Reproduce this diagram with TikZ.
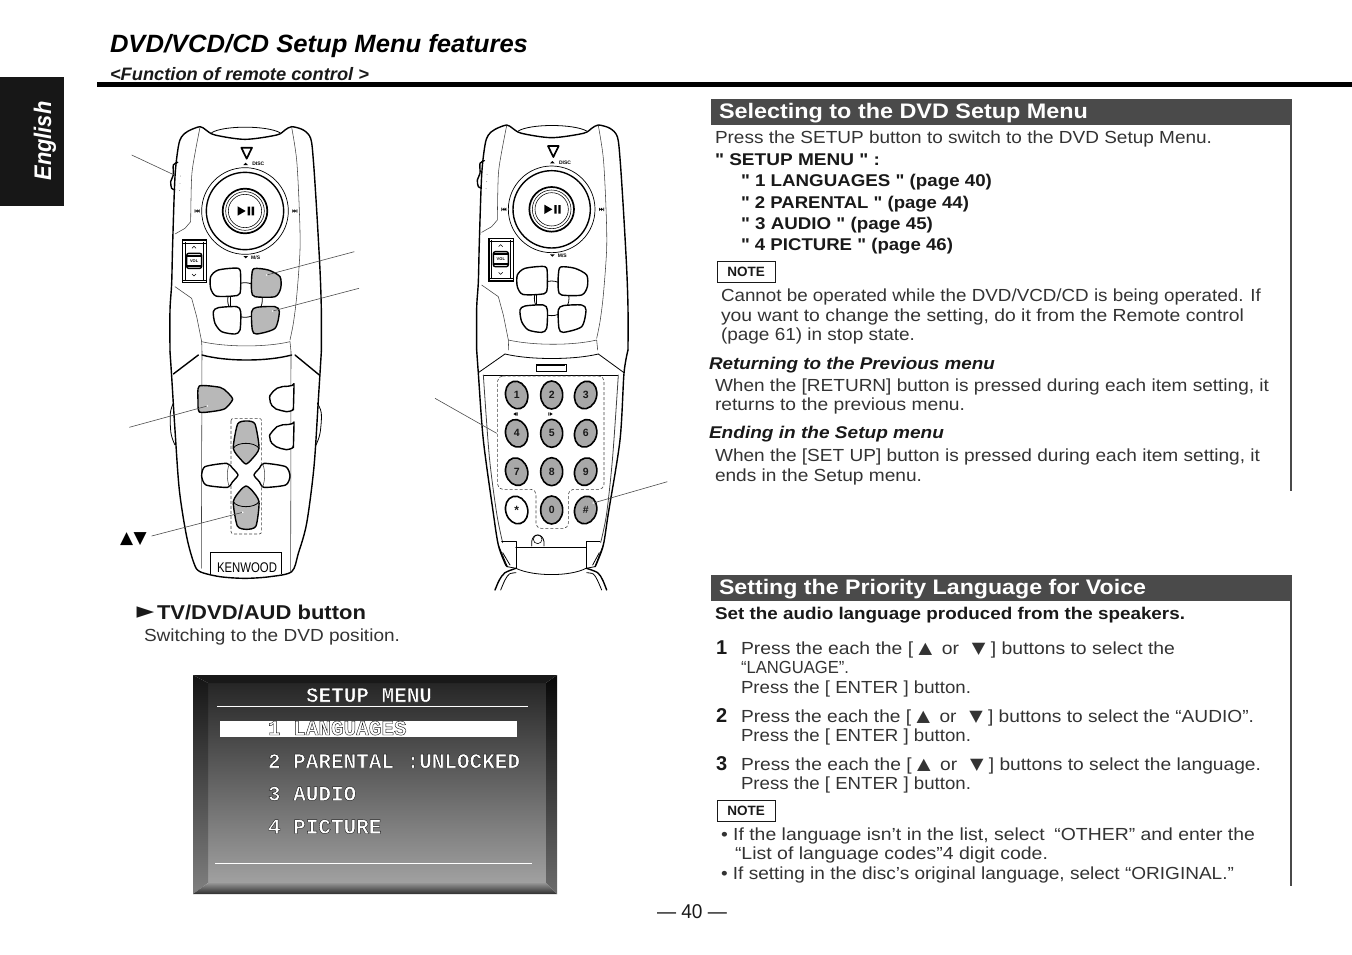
\documentclass[tikz,border=0pt]{standalone}
\usepackage{fontspec}
\usetikzlibrary{calc}
\setmainfont{Liberation Sans}[Ligatures=TeXOff]
\newfontfamily\djf{DejaVu Sans}
\font\scrf="Liberation Mono/B:embolden=2" at 21pt
\definecolor{ink}{gray}{0.1}
\definecolor{body}{gray}{0.2}
\definecolor{bar}{gray}{0.29}
\definecolor{btn}{gray}{0.72}
\definecolor{keyg}{gray}{0.66}
\newsavebox\fitbox
\newcommand\fitw[2]{\sbox\fitbox{#2}\pgfmathsetmacro\fitf{#1/\the\wd\fitbox}\scalebox{\fitf}[1]{\usebox\fitbox}}
\newcommand\fs[1]{\fontsize{#1}{#1}\selectfont}
\newcommand\T[6]{\node[txt] (#1) at (#2,#3) {\fitw{#4}{#5 #6}};}
\newcommand\B{\fs{17.5}\color{body}}
\newcommand\Bb{\fs{17}\bfseries\color{ink}}
\newcommand\Bi{\fs{17}\bfseries\itshape\color{ink}}
\newcommand\tri[1]{{\djf\fs{16}\raisebox{.5pt}{#1}}}
\tikzset{
 txt/.style={anchor=base west,inner sep=0pt,outer sep=0pt},
 ctr/.style={anchor=center,inner sep=0pt,outer sep=0pt},
 ol/.style={line width=1.4pt,line join=round,line cap=round,draw=black},
 md/.style={line width=.8pt,line join=round,line cap=round,draw=black},
 fine/.style={line width=.55pt,line join=round,line cap=round,draw=black!75},
 lead/.style={line width=.6pt,draw=black!70},
 dsh/.style={line width=.6pt,draw=black!75,dash pattern=on 3pt off 2pt,rounded corners=2.5pt},
 scrtxt/.style={anchor=base west,inner sep=0pt,outer sep=0pt},
}
% top half of a remote, in zoom coordinates. #1 prefix, #2 fill of right pair of buttons
\newcommand\remotetop[2]{
 \draw[ol] plot[smooth,tension=.5] coordinates {(150,725)(150,600)(155,520)(158,400)(165,200)(175,110)(185,80)(205,63)(240,50)(258,60)(285,75)(375,88)(470,75)(495,60)(515,50)(550,60)(572,85)(580,150)(590,300)(600,480)(604,600)(604,725)};
 \draw[md] (275,68) .. controls (310,46) and (440,46) .. (480,68);
 \draw[fine] plot[smooth,tension=.5] coordinates {(240,52)(225,130)(215,200)(212,335)} -- (195,355) -- (165,372);
 \draw[fine] (165,530) -- (215,565) -- (230,620) -- (245,695);
 \draw[fine] plot[smooth,tension=.5] coordinates {(515,52)(530,150)(538,300)(540,420)(530,560)(520,640)(510,690)};
 \draw[fine] (245,695) .. controls (320,712) and (440,712) .. (510,695) -- (513,725);
 \draw[fine] (245,695) -- (246,725);
 % eject mark
 \draw[line width=1.7pt,line join=round] (364,113) -- (396,113) -- (380,146) -- cycle;
 \fill (370,165) -- (384,165) -- (377,158) -- cycle;
 \node[ctr] (#1disc) at (415,162) {\fs{5}\bfseries DISC};
 % disc
 \draw[line width=.7pt] (375,303) circle (130);
 \draw[ol] (375,303) circle (116);
 \draw[line width=1.7pt] (375,303) circle (67);
 \draw[line width=.55pt] (375,303) circle (58);
 \draw[line width=.55pt] (375,303) circle (50);
 \fill (353,289) -- (353,317) -- (377,303) -- cycle;
 \fill (383,290) rectangle (390,316) (395,290) rectangle (402,316);
 % skip marks
 \fill (224,298) rectangle (226,308) (227,303) -- (233,298) -- (233,308) -- cycle (233,303) -- (239,298) -- (239,308) -- cycle;
 \fill (532,298) rectangle (530,308) (529,303) -- (523,298) -- (523,308) -- cycle (523,303) -- (517,298) -- (517,308) -- cycle;
 % ms
 \fill (370,438) -- (384,438) -- (377,445) -- cycle;
 \node[ctr] (#1ms) at (407,442) {\fs{5}\bfseries M/S};
 % volume box
 \draw[fill=white,line width=1.1pt] (187,390) rectangle (260,518);
 \draw[line width=.5pt] (195,395) -- (195,510) (250,395) -- (250,510) (187,400) -- (260,400) (187,510) -- (260,510);
 \draw[ol,rounded corners=2pt] (200,430) rectangle (245,475);
 \draw[line width=1.9pt] (201,438) -- (244,438) (201,468) -- (244,468);
 \node[ctr] (#1vol) at (222.5,453) {\fs{4}\bfseries VOL};
 \draw[line width=.55pt] (216,415) -- (222,409) -- (228,415) (216,492) -- (222,498) -- (228,492);
 % side switch
 \draw[ol] plot[smooth,tension=.5] coordinates {(173,157)(160,165)(160,195)(152,215)(155,235)(164,239)};
 \fill (181,198) circle (1) (180,220) circle (1) (178,241) circle (1);
 % pad
 \draw[line width=.8pt,fill=white] (375,570) circle (52);
 \draw[line width=.8pt] (330,555) -- (330,595);
 \draw[ol,fill=white] plot[smooth cycle,tension=.45] coordinates {(272,500)(295,480)(355,475)(362,500)(360,550)(340,558)(288,558)(272,535)};
 \draw[ol,fill=#2] plot[smooth cycle,tension=.45] coordinates {(395,500)(402,476)(445,480)(480,500)(482,535)(465,560)(405,560)(395,545)};
 \draw[ol,fill=white] plot[smooth cycle,tension=.45] coordinates {(280,605)(295,593)(350,590)(362,605)(360,660)(345,672)(305,665)(285,640)};
 \draw[ol,fill=#2] plot[smooth cycle,tension=.45] coordinates {(395,605)(410,592)(465,590)(478,605)(465,655)(410,672)(397,660)};
}
\begin{document}
\begin{tikzpicture}[x=1pt,y=-1pt]
\useasboundingbox (0,0) rectangle (1352,954);
% header
\fill[fill=ink!90!black] (0,77) rectangle (64,206);
\node[ctr,rotate=90] (lang) at (45,141) {\fitw{79}{\fs{24}\bfseries\itshape\color{white}English}};
\T{head}{110}{52}{418}{\fs{25}\bfseries\itshape\color{black}}{DVD/VCD/CD Setup Menu features}
\T{sub}{110}{80}{259}{\fs{18}\bfseries\itshape\color{ink}}{<Function of remote control >}
\fill[black] (97,81.5) rectangle (1352,86.5);

% remote 1
\begin{scope}[shift={(120,110)},x=.33333pt,y=-.33333pt]
 \remotetop{a}{btn}
\end{scope}
\begin{scope}[shift={(120,350)},x=.33333pt,y=-.33333pt]
 \draw[ol] plot[smooth,tension=.5] coordinates {(150,5)(155,80)(165,240)(178,420)(200,560)(222,640)(240,665)(300,680)(375,685)(450,680)(515,665)(535,610)(560,520)(582,350)(595,150)(604,5)};
 \draw[ol] (160,72) -- (235,15) (525,15) -- (598,75);
 \draw[ol] (246,15) .. controls (320,35) and (440,35) .. (515,15);
 \draw[fine] (246,5) -- (244,655) (513,5) -- (512,665);
 \draw[md] plot[smooth,tension=.6] coordinates {(160,160)(151,190)(153,250)(165,285)};
 \draw[md] plot[smooth,tension=.6] coordinates {(592,160)(604,190)(600,250)(588,285)};
 \draw[ol,fill=btn] plot[smooth cycle,tension=.4] coordinates {(238,108)(300,112)(320,125)(338,148)(315,176)(280,184)(238,186)(234,150)};
 \draw[ol,fill=white,rounded corners=3pt] plot[smooth,tension=.5] coordinates {(522,110)(480,112)(455,130)(450,150)(462,172)(490,183)(520,185)} -- cycle;
 \draw[ol,fill=white,rounded corners=3pt] plot[smooth,tension=.5] coordinates {(522,225)(480,227)(455,247)(450,265)(462,285)(490,297)(520,298)} -- cycle;
 \draw[dsh] (333,205) rectangle (425,552);
 \draw[ol,fill=btn] plot[smooth cycle,tension=.4] coordinates {(353,222)(380,213)(405,222)(417,295)(395,328)(378,342)(362,328)(340,295)};
 \draw[md] (340,295) .. controls (350,275) and (405,275) .. (417,295);
 \draw[ol,fill=btn] plot[smooth cycle,tension=.4] coordinates {(378,408)(395,420)(417,455)(408,528)(380,538)(352,528)(340,455)(362,420)};
 \draw[md] (340,455) .. controls (350,475) and (405,475) .. (417,455);
 \draw[ol,fill=white] plot[smooth cycle,tension=.4] coordinates {(255,350)(320,340)(338,355)(354,375)(338,395)(322,412)(258,405)(245,378)};
 \draw[fine] (328,342) .. controls (320,360) and (320,390) .. (328,410);
 \draw[ol,fill=white] plot[smooth cycle,tension=.4] coordinates {(497,350)(432,340)(418,355)(402,375)(418,395)(432,412)(497,405)(510,378)};
 \draw[fine] (428,342) .. controls (436,360) and (436,390) .. (428,410);
 \draw[line width=.7pt] (272,672) -- (272,607) -- (483,607) -- (483,672);
\end{scope}
\T{kw}{217}{572}{60}{\fs{14}\color{black}}{KENWOOD}
% leaders remote 1
\coordinate (l1a) at (131.7,155);
\coordinate (l1b) at (174.3,175);
\coordinate (l2a) at (354.3,251.7);
\coordinate (l2b) at (266.7,275);
\coordinate (l3a) at (359,288.3);
\coordinate (l3b) at (272.7,311);
\coordinate (l4a) at (129.3,427.3);
\coordinate (l4b) at (207.3,406);
\node[txt] (updown) at (120,543) {\djf\fs{17}\color{black}▲\hspace{.5pt}▼};
\coordinate (l5b) at (242.7,512.3);
\draw[lead] (l1a) -- (l1b);
\draw[lead] (l2a) -- (l2b);
\draw[lead] (l3a) -- (l3b);
\draw[lead] (l4a) -- (l4b);
\draw[lead] ($(updown.base east)+(5,-7)$) -- (l5b);
\fill[white] (l2b) circle[radius=.9pt] (l3b) circle[radius=.9pt] (l4b) circle[radius=.9pt] (l5b) circle[radius=.9pt];

% remote 2
\begin{scope}[shift={(426.67,108.33)},x=.33333pt,y=-.33333pt]
 \remotetop{b}{white}
\end{scope}
\begin{scope}[shift={(430,350)},x=.33333pt,y=-.33333pt]
 \draw[ol] plot[smooth,tension=.5] coordinates {(140,0)(145,70)(160,270)(190,490)(205,585)(225,640)(232,650)};
 \draw[ol] plot[smooth,tension=.5] coordinates {(594,0)(582,70)(570,270)(535,490)(520,585)(500,640)(495,650)};
 \draw[md] (145,68) -- (225,12) (582,68) -- (505,12);
 \draw[md] (225,12) .. controls (300,30) and (430,30) .. (505,12);
 \draw[line width=.8pt] (318,42) rectangle (408,63);
 \draw[line width=1.2pt] (320,46) -- (406,46);
 \draw[line width=1pt] (160,75) -- (565,75);
 \draw[fine,line width=.8pt] plot[smooth,tension=.5] coordinates {(160,75)(178,320)(200,490)(218,578)};
 \draw[fine,line width=.8pt] plot[smooth,tension=.5] coordinates {(565,75)(548,320)(530,490)(512,578)};
 \draw[dsh,rounded corners=5pt] (203,78) -- (522,78) -- (522,418) -- (415,418) -- (415,535) -- (318,535) -- (318,418) -- (203,418) -- cycle;
 \foreach \kx/\ky/\ka/\kl in {260/135/15/k1,365/135/0/k2,467/135/-15/k3,260/250/15/k4,365/250/0/k5,467/250/-15/k6,260/365/15/k7,365/365/0/k8,467/365/-15/k9,365/480/0/k0,467/480/-15/kh}{
  \draw[ol,line width=1.6pt,fill=keyg,rotate around={\ka:(\kx,\ky)}] (\kx,\ky) ellipse (33 and 42);
 }
 \draw[ol,line width=1.6pt,fill=white,rotate around={15:(260,480)}] (260,480) ellipse (33 and 42);
 \node[ctr] (k1) at (260,135) {\fs{10.5}\bfseries\color{ink}1};
 \node[ctr] (k2) at (365,135) {\fs{10.5}\bfseries\color{ink}2};
 \node[ctr] (k3) at (467,135) {\fs{10.5}\bfseries\color{ink}3};
 \node[ctr] (k4) at (260,250) {\fs{10.5}\bfseries\color{ink}4};
 \node[ctr] (k5) at (365,250) {\fs{10.5}\bfseries\color{ink}5};
 \node[ctr] (k6) at (467,250) {\fs{10.5}\bfseries\color{ink}6};
 \node[ctr] (k7) at (260,365) {\fs{10.5}\bfseries\color{ink}7};
 \node[ctr] (k8) at (365,365) {\fs{10.5}\bfseries\color{ink}8};
 \node[ctr] (k9) at (467,365) {\fs{10.5}\bfseries\color{ink}9};
 \node[ctr] (ks) at (260,480) {\fs{12}\bfseries\color{ink}\raisebox{-2.5pt}{*}};
 \node[ctr] (k0) at (365,480) {\fs{10.5}\bfseries\color{ink}0};
 \node[ctr] (kh) at (467,480) {\fs{10.5}\bfseries\color{ink}\#};
 \fill (250,192) -- (258,187) -- (258,197) -- cycle (260,187) rectangle (263,197);
 \fill (355,187) rectangle (358,197) (360,187) -- (368,192) -- (360,197) -- cycle;
 % hatch
 \draw[md] (305,588) -- (305,575) .. controls (308,548) and (338,548) .. (342,575) -- (342,588);
 \draw[line width=.6pt] (323,568) circle (13);
 \draw[md] (215,575) -- (258,575) -- (258,655);
 \draw[md] (510,575) -- (468,575) -- (468,655);
 \draw[ol] (258,592) -- (468,592);
 \draw[md] (205,585) -- (232,650) -- (258,655);
 \draw[md] (218,608) -- (240,645);
 \draw[md] (520,585) -- (495,650) -- (468,655);
 \draw[md] (508,608) -- (488,645);
 \draw[md] (258,655) .. controls (310,680) and (420,680) .. (468,655);
 \draw[ol] plot[smooth,tension=.5] coordinates {(258,655)(225,668)(208,690)(195,720)};
 \draw[md] plot[smooth,tension=.5] coordinates {(258,668)(238,672)(225,690)(212,720)};
 \draw[ol] plot[smooth,tension=.5] coordinates {(470,655)(503,668)(518,690)(530,720)};
 \draw[md] plot[smooth,tension=.5] coordinates {(470,668)(490,672)(502,690)(515,720)};
\end{scope}
\coordinate (l6a) at (435,398.3);
\coordinate (l6b) at (496.7,433.3);
\coordinate (l7a) at (667.3,481.7);
\coordinate (l7b) at (593.3,503);
\draw[lead] (l6a) -- (l6b);
\draw[lead] (l7a) -- (l7b);
\fill[white] (l7b) circle[radius=.9pt];

% caption left
\node[txt] (arrowhead) at (136.5,618.5) {\djf\fs{23}\color{ink}►};
\T{tvbtn}{157}{619}{209}{\fs{20}\bfseries\color{ink}}{TV/DVD/AUD button}
\T{sw}{144}{641}{256}{\B}{Switching to the DVD position.}

% screen
\shade[top color=black!85,bottom color=black!37] (208,683) rectangle (546,883);
\shade[top color=black!92,bottom color=black!50] (193,675) -- (208,683) -- (208,883) -- (193,894) -- cycle;
\shade[top color=black!97,bottom color=black!58] (557,675) -- (546,683) -- (546,883) -- (557,894) -- cycle;
\fill[black!90] (193,675) -- (557,675) -- (546,683) -- (208,683) -- cycle;
\shade[top color=black!42,bottom color=black!82] (193,894) -- (557,894) -- (546,883) -- (208,883) -- cycle;
\fill[white] (220,721) rectangle (517,737);
\draw[white,line width=1.5pt] (217,706.7) -- (528,706.7);
\draw[white,line width=1.5pt] (215,863.5) -- (532,863.5);
\newcommand\scrtext[1]{\scrf\color{white}\special{pdf:code 0.1 0.1 0.1 RG}#1}
\node[scrtxt] (s0) at (306,702) {\scrtext{SETUP MENU}};
\node[scrtxt] (s1) at (268,735) {\scrtext{1 LANGUAGES}};
\node[scrtxt] (s2) at (268,768) {\scrtext{2 PARENTAL :UNLOCKED}};
\node[scrtxt] (s3) at (268,800.5) {\scrtext{3 AUDIO}};
\node[scrtxt] (s4) at (268,833.5) {\scrtext{4 PICTURE}};

% page number
\T{pageno}{657}{918}{70}{\fs{20}\color{ink}}{— 40 —}

% section 1
\fill[bar] (711,99) rectangle (1292,124.5);
\draw[bar,line width=1.2pt] (1291,99) -- (1291,491);
\T{h1}{719}{118}{369}{\fs{21}\bfseries\color{white}}{Selecting to the DVD Setup Menu}
\T{a1}{715}{143}{497}{\B}{Press the SETUP button to switch to the DVD Setup Menu.}
\T{a2}{715}{165}{165}{\Bb}{" SETUP MENU " :}
\T{a3}{741}{186}{251}{\Bb}{" 1 LANGUAGES " (page 40)}
\T{a4}{741}{208}{228}{\Bb}{" 2 PARENTAL " (page 44)}
\T{a5}{741}{229}{192}{\Bb}{" 3 AUDIO " (page 45)}
\T{a6}{741}{250}{212}{\Bb}{" 4 PICTURE " (page 46)}
\node[draw=ink,line width=.9pt,minimum width=58pt,minimum height=21pt,inner sep=0pt,anchor=center] (note1) at (746,271.5) {\fs{13.5}\bfseries\color{ink}NOTE};
\T{a7}{721}{301}{540}{\B}{Cannot be operated while the DVD/VCD/CD is being operated. If}
\T{a8}{721}{321}{523}{\B}{you want to change the setting, do it from the Remote control}
\T{a9}{721}{340}{194}{\B}{(page 61) in stop state.}
\T{a10}{709}{369}{286}{\Bi}{Returning to the Previous menu}
\T{a11}{715}{391}{554}{\B}{When the [RETURN] button is pressed during each item setting, it}
\T{a12}{715}{410}{250}{\B}{returns to the previous menu.}
\T{a13}{709}{438}{235}{\Bi}{Ending in the Setup menu}
\T{a14}{715}{461}{545}{\B}{When the [SET UP] button is pressed during each item setting, it}
\T{a15}{715}{481}{207}{\B}{ends in the Setup menu.}

% section 2
\fill[bar] (711,575) rectangle (1292,600.5);
\draw[bar,line width=1.2pt] (1291,575) -- (1291,886);
\T{h2}{719}{594}{427}{\fs{21}\bfseries\color{white}}{Setting the Priority Language for Voice}
\T{b1}{715}{619}{470}{\Bb}{Set the audio language produced from the speakers.}
\node[txt] (n1) at (716,654) {\fs{20}\bfseries\color{ink}1};
\node[txt] (n2) at (716,722) {\fs{20}\bfseries\color{ink}2};
\node[txt] (n3) at (716,770) {\fs{20}\bfseries\color{ink}3};
\T{b2}{741}{654}{434}{\B}{Press the each the [ \tri{▲}\enspace or\enspace\,\tri{▼} ] buttons to select the}
\T{b3}{741}{673}{108}{\B}{“LANGUAGE”.}
\T{b4}{741}{693}{230}{\B}{Press the [ ENTER ] button.}
\T{b5}{741}{722}{513}{\B}{Press the each the [ \tri{▲}\enspace or\enspace\,\tri{▼} ] buttons to select the “AUDIO”.}
\T{b6}{741}{741}{230}{\B}{Press the [ ENTER ] button.}
\T{b7}{741}{770}{520}{\B}{Press the each the [ \tri{▲}\enspace or\enspace\,\tri{▼} ] buttons to select the language.}
\T{b8}{741}{789}{230}{\B}{Press the [ ENTER ] button.}
\node[draw=ink,line width=.9pt,minimum width=58pt,minimum height=21pt,inner sep=0pt,anchor=center] (note2) at (746,810.5) {\fs{13.5}\bfseries\color{ink}NOTE};
\T{b9}{721}{840}{534}{\B}{• If the language isn’t in the list, select\enspace“OTHER” and enter the}
\T{b10}{735}{859}{313}{\B}{“List of language codes”4 digit code.}
\T{b11}{721}{879}{513}{\B}{• If setting in the disc’s original language, select “ORIGINAL.”}
\end{tikzpicture}
\end{document}
